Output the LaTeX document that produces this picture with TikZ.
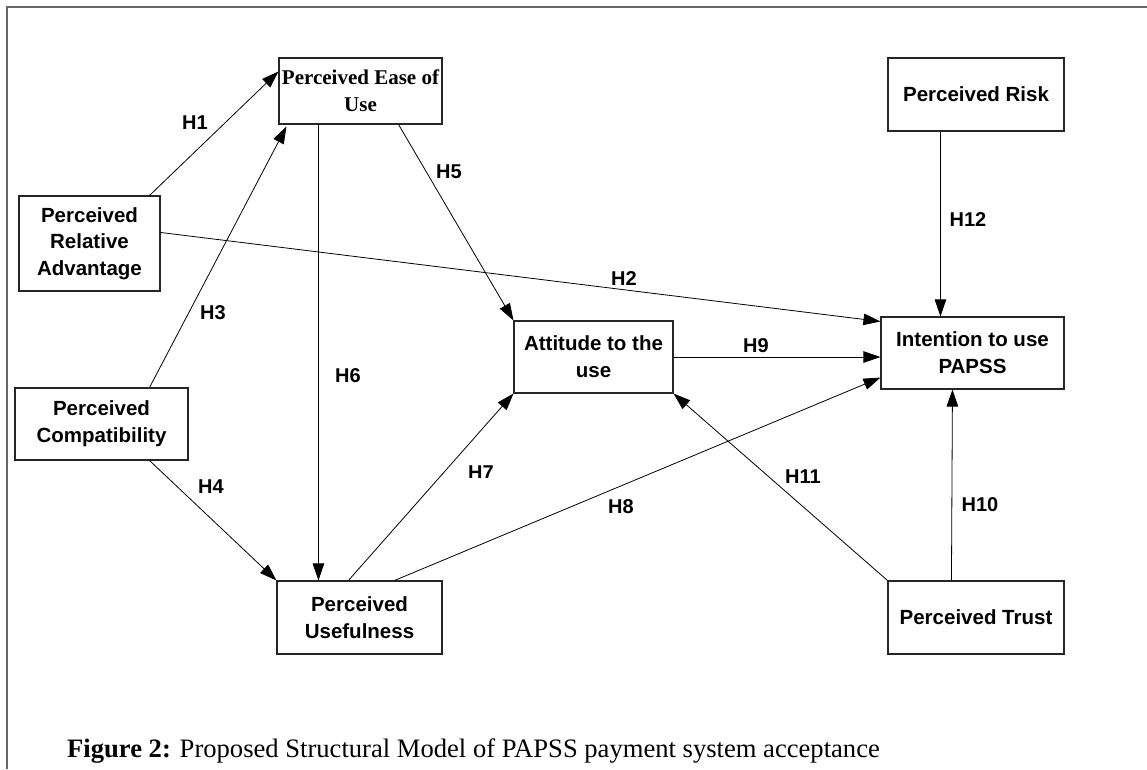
\documentclass[tikz,border=0pt]{standalone}
\usepackage{fontspec}
\setmainfont{Liberation Sans}
\newfontfamily\timesfont{Liberation Serif}
\usetikzlibrary{arrows.meta}

\begin{document}
\begin{tikzpicture}[x=1pt, y=-1pt, >={Triangle[length=17pt,width=11.5pt]},
    box/.style={draw=black!85, line width=1.1pt, rectangle, align=center, inner sep=2pt,
        font=\fontsize{20.5}{26.7}\selectfont\bfseries},
    hyp/.style={font=\fontsize{20}{22}\selectfont\bfseries, inner sep=0pt},
    link/.style={->, line width=0.8pt}]

    \useasboundingbox (0,0) rectangle (1147,769);

    % Frame
    \draw[black!60, line width=1.6pt] (7,769) -- (7,7) -- (1147,7);

    % Constructs
    \node[box, minimum width=141pt, minimum height=95pt] (pra) at (89.5,243.5) {Perceived\\Relative\\Advantage};
    \node[box, minimum width=163pt, minimum height=66pt,
        font=\timesfont\fontsize{21}{26.7}\selectfont\bfseries] (peou) at (360.5,91) {Perceived Ease of\\Use};
    \node[box, minimum width=173pt, minimum height=72pt] (pc) at (101.5,424) {Perceived\\Compatibility};
    \node[box, minimum width=165pt, minimum height=73pt] (pu) at (359.5,617.5) {Perceived\\Usefulness};
    \node[box, minimum width=159pt, minimum height=72pt] (att) at (593.5,357) {Attitude to the\\use};
    \node[box, minimum width=176pt, minimum height=73pt] (risk) at (976,94.5) {Perceived Risk};
    \node[box, minimum width=183pt, minimum height=72pt] (int) at (972.5,353) {Intention to use\\PAPSS};
    \node[box, minimum width=176pt, minimum height=73pt] (trust) at (976,617.5) {Perceived Trust};

    % Hypotheses
    \draw[link] ([xshift=-11pt]pra.north east) -- ([yshift=-14pt]peou.north west);
    \draw[link] ([yshift=-37pt]pra.north east) -- ([yshift=-5pt]int.north west);
    \draw[link] ([xshift=-39pt]pc.north east) -- ([xshift=8pt,yshift=-2pt]peou.south west);
    \draw[link] ([xshift=-39pt]pc.south east) -- (pu.north west);
    \draw[link] ([xshift=-44pt]peou.south east) -- (att.north west);
    \draw[link] ([xshift=40pt]peou.south west) -- ([xshift=42pt]pu.north west);
    \draw[link] ([xshift=72pt]pu.north west) -- (att.south west);
    \draw[link] ([xshift=-48pt]pu.north east) -- ([yshift=12pt]int.south west);
    \draw[link] (att.east) -- (att.east -| int.west);
    \draw[link] ([xshift=64pt]trust.north west) -- ([xshift=72pt]int.south west);
    \draw[link] (trust.north west) -- (att.south east);
    \draw[link] ([xshift=53pt]risk.south west) -- ([xshift=60pt]int.north west);

    % Labels
    \node[hyp] (h1) at (195,123) {H1};
    \node[hyp] (h2) at (624,279) {H2};
    \node[hyp] (h3) at (213,313) {H3};
    \node[hyp] (h4) at (211,487) {H4};
    \node[hyp] (h5) at (449,172) {H5};
    \node[hyp] (h6) at (348,376) {H6};
    \begin{scope}
        \clip (450,455) rectangle (510,477);
        \node[hyp] (h7) at (481,473) {H7};
    \end{scope}
    \node[hyp] (h8) at (621,507) {H8};
    \node[hyp] (h9) at (756,346) {H9};
    \node[hyp] (h10) at (980,505) {H10};
    \node[hyp] (h11) at (803,477) {H11};
    \node[hyp] (h12) at (968,220) {H12};

    % Caption
    \node[anchor=base west, inner sep=0pt, font=\timesfont\fontsize{26.6}{30}\selectfont] (cap) at (67,757)
        {\textbf{Figure 2:} Proposed Structural Model of PAPSS payment system acceptance};

\end{tikzpicture}
\end{document}
